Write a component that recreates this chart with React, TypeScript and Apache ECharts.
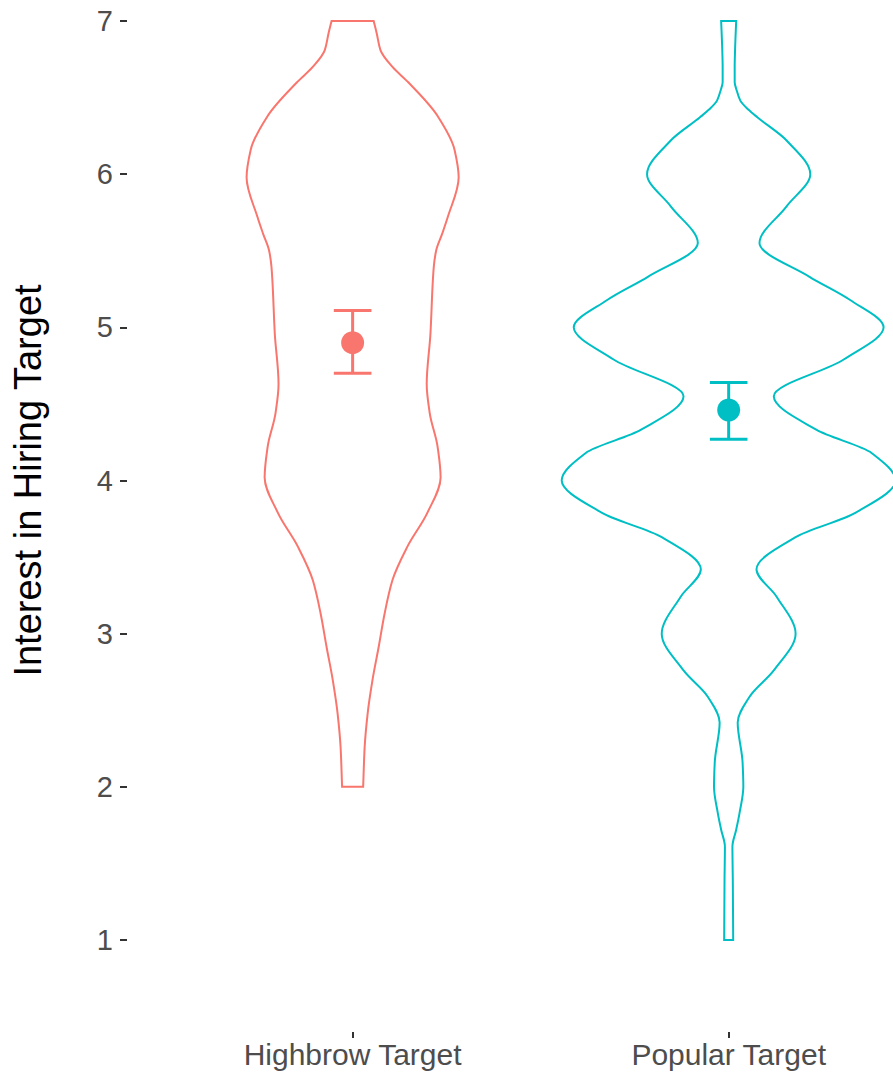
import React, { useEffect, useRef } from "react";
import * as echarts from "echarts";

const categories = ["Highbrow Target", "Popular Target"];
const groupColors = ["#F8766D", "#00BFC4"];
const yTicks = [1, 2, 3, 4, 5, 6, 7];

// violin outline: score level and half-width (in category units)
const highbrowY = [7.0, 6.92, 6.81, 6.7, 6.6, 6.38, 6.16, 5.98, 5.72, 5.61, 5.5, 5.4, 5.29, 4.96, 4.63, 4.44, 4.22, 4.02, 3.79, 3.57, 3.35, 3.13, 2.91, 2.7, 2.48, 2.26, 2.0];
const highbrowHalfWidth = [0.056, 0.064, 0.074, 0.106, 0.148, 0.226, 0.271, 0.282, 0.253, 0.238, 0.222, 0.216, 0.213, 0.207, 0.197, 0.205, 0.226, 0.234, 0.199, 0.146, 0.106, 0.085, 0.069, 0.053, 0.04, 0.032, 0.028];

const popularY = [7.0, 6.81, 6.7, 6.6, 6.55, 6.48, 6.42, 6.37, 6.22, 6.0, 5.79, 5.55, 5.33, 5.18, 5.0, 4.79, 4.55, 4.33, 4.18, 4.0, 3.79, 3.63, 3.42, 3.24, 3.0, 2.76, 2.59, 2.42, 2.16, 2.0, 1.83, 1.72, 1.61, 1.39, 1.0];
const popularHalfWidth = [0.02, 0.017, 0.016, 0.016, 0.021, 0.031, 0.053, 0.077, 0.154, 0.217, 0.154, 0.082, 0.215, 0.322, 0.412, 0.306, 0.12, 0.234, 0.38, 0.444, 0.338, 0.178, 0.074, 0.128, 0.178, 0.12, 0.056, 0.024, 0.037, 0.039, 0.029, 0.02, 0.01, 0.011, 0.012];

const means = [4.9, 4.46];
const lowerCI = [4.7, 4.27];
const upperCI = [5.11, 4.64];

const profiles = [
  { y: highbrowY, w: highbrowHalfWidth },
  { y: popularY, w: popularHalfWidth },
];

// monotone cubic (x as a function of y) through the outline points
function smoothY(pts: number[][]): string {
  const n = pts.length;
  const h: number[] = [];
  const dl: number[] = [];
  for (let k = 0; k < n - 1; k++) {
    h.push(pts[k + 1][1] - pts[k][1]);
    dl.push((pts[k + 1][0] - pts[k][0]) / (pts[k + 1][1] - pts[k][1]));
  }
  const m: number[] = new Array(n).fill(0);
  m[0] = dl[0];
  m[n - 1] = dl[n - 2];
  for (let k = 1; k < n - 1; k++) {
    const d0 = dl[k - 1];
    const d1 = dl[k];
    if (d0 * d1 <= 0) {
      m[k] = 0;
    } else {
      const h0 = Math.abs(h[k - 1]);
      const h1 = Math.abs(h[k]);
      m[k] = (3 * (h0 + h1)) / ((2 * h1 + h0) / d0 + (h1 + 2 * h0) / d1);
    }
  }
  let d = "";
  for (let k = 0; k < n - 1; k++) {
    const [x0, y0] = pts[k];
    const [x1, y1] = pts[k + 1];
    const hk = h[k];
    const c1x = x0 + (m[k] * hk) / 3;
    const c1y = y0 + hk / 3;
    const c2x = x1 - (m[k + 1] * hk) / 3;
    const c2y = y1 - hk / 3;
    d += ` C${c1x},${c1y} ${c2x},${c2y} ${x1},${y1}`;
  }
  return d;
}

const FONT = "'Liberation Sans', Arial, Helvetica, sans-serif";

export default function App() {
  const ref = useRef<HTMLDivElement>(null);
  useEffect(() => {
    if (!ref.current) return;
    const chart = echarts.init(ref.current, undefined, { renderer: "svg" });
    const option: any = {
      animation: false,
      backgroundColor: "#ffffff",
      grid: { left: 127, right: 0, top: 21, bottom: 136, containLabel: false, outerBoundsMode: "none" },
      xAxis: {
        type: "value",
        min: 0.4,
        max: 2.437,
        offset: 92,
        splitLine: { show: false },
        axisLine: { show: false },
        axisTick: { show: true, length: 6, customValues: [1, 2], lineStyle: { color: "#333333", width: 2 } },
        axisLabel: {
          customValues: [1, 2],
          formatter: (v: number) => categories[Math.round(v) - 1] || "",
          margin: 7,
          fontSize: 30,
          color: "#4D4D4D",
          fontFamily: FONT,
        },
      },
      yAxis: {
        type: "value",
        min: yTicks[0],
        max: yTicks[yTicks.length - 1],
        interval: 1,
        splitLine: { show: false },
        axisLine: { show: false },
        axisTick: { show: true, length: 7, lineStyle: { color: "#333333", width: 2 } },
        axisLabel: { margin: 14, fontSize: 29, color: "#4D4D4D", fontFamily: FONT },
        name: "Interest in Hiring Target",
        nameLocation: "middle",
        nameRotate: 90,
        nameGap: 80,
        nameTextStyle: { fontSize: 38, color: "#000000", fontFamily: FONT },
      },
      series: [
        {
          type: "custom",
          clip: false,
          data: categories.map((_, i) => [i + 1, means[i]]),
          renderItem: (params: any, api: any) => {
            const i = params.dataIndex;
            const prof = profiles[i];
            const cx = i + 1;
            const right = prof.y.map((y, k) => api.coord([cx + prof.w[k], y]));
            const left = prof.y.map((y, k) => api.coord([cx - prof.w[k], y]));
            const leftRev = left.slice().reverse();
            const d =
              `M${right[0][0]},${right[0][1]}` +
              smoothY(right) +
              ` L${leftRev[0][0]},${leftRev[0][1]}` +
              smoothY(leftRev) +
              " Z";
            return {
              type: "path",
              shape: { pathData: d },
              style: { fill: "none", stroke: groupColors[i], lineWidth: 2 },
            };
          },
        },
        {
          type: "custom",
          clip: false,
          data: categories.map((_, i) => [i + 1, lowerCI[i], upperCI[i]]),
          renderItem: (params: any, api: any) => {
            const i = params.dataIndex;
            const cx = api.value(0);
            const lo = api.coord([cx, api.value(1)]);
            const hi = api.coord([cx, api.value(2)]);
            const l = api.coord([cx - 0.05, api.value(1)]);
            const r = api.coord([cx + 0.05, api.value(1)]);
            const hw = (r[0] - l[0]) / 2;
            const st = { stroke: groupColors[i], lineWidth: 3 };
            return {
              type: "group",
              children: [
                { type: "line", shape: { x1: lo[0], y1: lo[1], x2: hi[0], y2: hi[1] }, style: st },
                { type: "line", shape: { x1: lo[0] - hw, y1: lo[1], x2: lo[0] + hw, y2: lo[1] }, style: st },
                { type: "line", shape: { x1: hi[0] - hw, y1: hi[1], x2: hi[0] + hw, y2: hi[1] }, style: st },
              ],
            };
          },
        },
        {
          type: "scatter",
          symbol: "circle",
          symbolSize: 23,
          clip: false,
          itemStyle: { opacity: 1 },
          data: categories.map((_, i) => ({ value: [i + 1, means[i]], itemStyle: { color: groupColors[i], opacity: 1 } })),
        },
      ],
    };
    chart.setOption(option);
    return () => chart.dispose();
  }, []);
  return (
    <div
      ref={ref}
      style={{ position: "absolute", left: 0, top: 0, width: 893, height: 1076, background: "#fff" }}
    />
  );
}
